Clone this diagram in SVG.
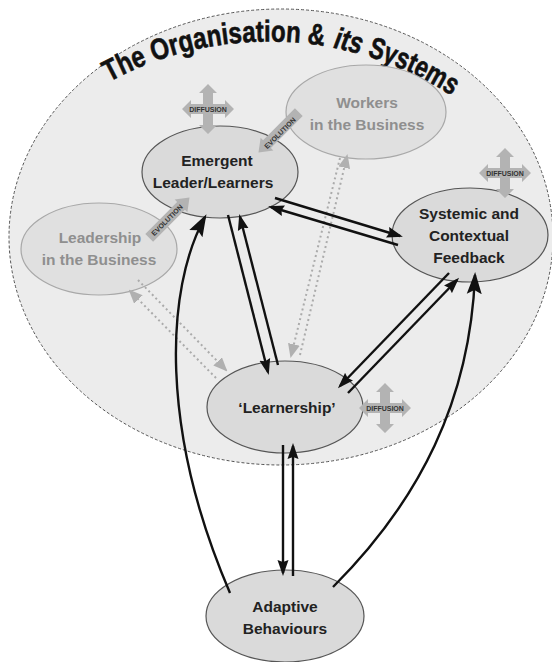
<svg xmlns="http://www.w3.org/2000/svg" width="552" height="662" viewBox="0 0 552 662">
  <style>
    .node { fill: #dadada; stroke: #555; stroke-width: 1.2; }
    .faint { fill: #e0e0e0; stroke: #a8a8a8; stroke-width: 1.2; }
    .lbl { font-family: "Liberation Sans", Arial, sans-serif; font-weight: bold; font-size: 15.5px; fill: #222; text-anchor: middle; }
    .lbl-faint { font-family: "Liberation Sans", Arial, sans-serif; font-weight: bold; font-size: 15.5px; fill: #8f8f8f; text-anchor: middle; }
    .tag { font-family: "Liberation Sans", Arial, sans-serif; font-weight: bold; font-size: 7px; fill: #333; text-anchor: middle; }
    .title { font-family: "Liberation Sans", Arial, sans-serif; font-weight: bold; font-size: 30px; fill: #111; stroke: #111; stroke-width: 0.6; }
    .link { fill: none; stroke: #111; stroke-width: 2.4; }
    .dots { fill: none; stroke: #ababab; stroke-width: 2; stroke-dasharray: 2 3; }
    .sym { fill: #b3b3b3; }
  </style>
  <defs>
    <marker id="ah" markerUnits="userSpaceOnUse" markerWidth="16" markerHeight="12" refX="13" refY="6" orient="auto">
      <path d="M0,0.5 L16,6 L0,11.5 L2,6 z" fill="#111"/>
    </marker>
    <marker id="ahBig" markerUnits="userSpaceOnUse" markerWidth="22" markerHeight="16" refX="19" refY="8" orient="auto">
      <path d="M0,0.5 L22,8 L0,15.5 L4,8 z" fill="#111"/>
    </marker>
    <marker id="ahGrey" markerUnits="userSpaceOnUse" markerWidth="14" markerHeight="12" refX="12" refY="6" orient="auto">
      <path d="M0,0 L14,6 L0,12 z" fill="#b0b0b0"/>
    </marker>
    <!-- four-way diffusion arrow, centred on 0,0 -->
    <path id="cross" class="sym" d="M0,-25 L9,-16 L5,-16 L5,-5 L17,-5 L17,-9 L26,0 L17,9 L17,5 L5,5 L5,16 L9,16 L0,25 L-9,16 L-5,16 L-5,5 L-17,5 L-17,9 L-26,0 L-17,-9 L-17,-5 L-5,-5 L-5,-16 L-9,-16 Z"/>
    <!-- block arrow for evolution, pointing +x, centred on 0,0 -->
    <path id="evo" class="sym" d="M-28,-5.5 L17,-5.5 L17,-9 L29,0 L17,9 L17,5.5 L-28,5.5 Z"/>
    <path id="titleArc" d="M109,82 A335,335 0 0 1 465,105"/>
  </defs>

  <rect width="552" height="662" fill="#ffffff"/>

  <!-- the organisation boundary and its heading -->
  <g id="organisation">
    <ellipse cx="281" cy="237" rx="272" ry="228" fill="#ececec" stroke="#555" stroke-width="1" stroke-dasharray="3 2"/>
    <text class="title"><textPath href="#titleArc" textLength="222" lengthAdjust="spacingAndGlyphs">The Organisation &amp;</textPath></text>
    <text class="title" font-style="italic"><textPath href="#titleArc" startOffset="231" textLength="28" lengthAdjust="spacingAndGlyphs">its</textPath></text>
    <text class="title"><textPath href="#titleArc" startOffset="266" textLength="94" lengthAdjust="spacingAndGlyphs">Systems</textPath></text>
  </g>

  <g id="workers">
    <ellipse class="faint" cx="366" cy="112" rx="80" ry="47"/>
    <text class="lbl-faint" x="367" y="107.5">Workers</text>
    <text class="lbl-faint" x="367" y="129.5">in the Business</text>
  </g>

  <g id="leadership">
    <ellipse class="faint" cx="99" cy="249" rx="78" ry="46"/>
    <text class="lbl-faint" x="100" y="242.5">Leadership</text>
    <text class="lbl-faint" x="99" y="264.5">in the Business</text>
  </g>

  <g id="emergent">
    <ellipse class="node" cx="220" cy="172" rx="78" ry="46"/>
    <text class="lbl" x="217" y="166">Emergent</text>
    <text class="lbl" x="213" y="188">Leader/Learners</text>
  </g>

  <g id="systemic">
    <ellipse class="node" cx="470" cy="235" rx="78" ry="47"/>
    <text class="lbl" x="469" y="218.5">Systemic and</text>
    <text class="lbl" x="469" y="241">Contextual</text>
    <text class="lbl" x="469" y="263">Feedback</text>
  </g>

  <g id="learnership">
    <ellipse class="node" cx="285" cy="407" rx="78" ry="46"/>
    <text class="lbl" x="287" y="413">‘Learnership’</text>
  </g>

  <g id="adaptive">
    <ellipse class="node" cx="285" cy="616" rx="79" ry="46"/>
    <text class="lbl" x="285" y="612">Adaptive</text>
    <text class="lbl" x="285" y="634">Behaviours</text>
  </g>

  <g id="connectors">
    <!-- dotted exchanges with the business -->
    <path class="dots" d="M340,158 L291,356" marker-end="url(#ahGrey)"/>
    <path class="dots" d="M300,355 L347,156" marker-end="url(#ahGrey)"/>
    <path class="dots" d="M138,280 L226,370" marker-end="url(#ahGrey)"/>
    <path class="dots" d="M216,378 L130,291" marker-end="url(#ahGrey)"/>
    <!-- paired links -->
    <path class="link" d="M275,198 L400,236" marker-end="url(#ah)"/>
    <path class="link" d="M398,245 L271,207" marker-end="url(#ah)"/>
    <path class="link" d="M228,215 L268,372" marker-end="url(#ah)"/>
    <path class="link" d="M278,365 L240,217" marker-end="url(#ah)"/>
    <path class="link" d="M449,273 L340,386" marker-end="url(#ah)"/>
    <path class="link" d="M348,393 L457,280" marker-end="url(#ah)"/>
    <path class="link" d="M283,445 L283,573" marker-end="url(#ah)"/>
    <path class="link" d="M293,576 L293,446" marker-end="url(#ah)"/>
    <!-- feedback curves from adaptive behaviours -->
    <path class="link" d="M230,593 C160,430 165,290 205,217" marker-end="url(#ahBig)"/>
    <path class="link" d="M333,587 C420,500 470,400 475,275" marker-end="url(#ahBig)"/>
  </g>

  <!-- evolution arrows -->
  <g id="evolution-workers" transform="translate(279,132) rotate(-45) scale(-1,1)">
    <use href="#evo"/>
  </g>
  <text class="tag" transform="translate(280,133) rotate(-45)" y="2.5" font-size="7.5">EVOLUTION</text>
  <g id="evolution-leadership" transform="translate(169,218) rotate(-45)">
    <use href="#evo"/>
  </g>
  <text class="tag" transform="translate(167,220) rotate(-45)" y="2.5" font-size="7.5">EVOLUTION</text>

  <!-- diffusion markers -->
  <g id="diffusion-emergent">
    <use href="#cross" x="208" y="109"/>
    <text class="tag" x="208" y="111.5">DIFFUSION</text>
  </g>
  <g id="diffusion-systemic">
    <use href="#cross" x="505" y="173"/>
    <text class="tag" x="505" y="175.5">DIFFUSION</text>
  </g>
  <g id="diffusion-learnership">
    <use href="#cross" x="385" y="408"/>
    <text class="tag" x="385" y="410.5">DIFFUSION</text>
  </g>
</svg>
